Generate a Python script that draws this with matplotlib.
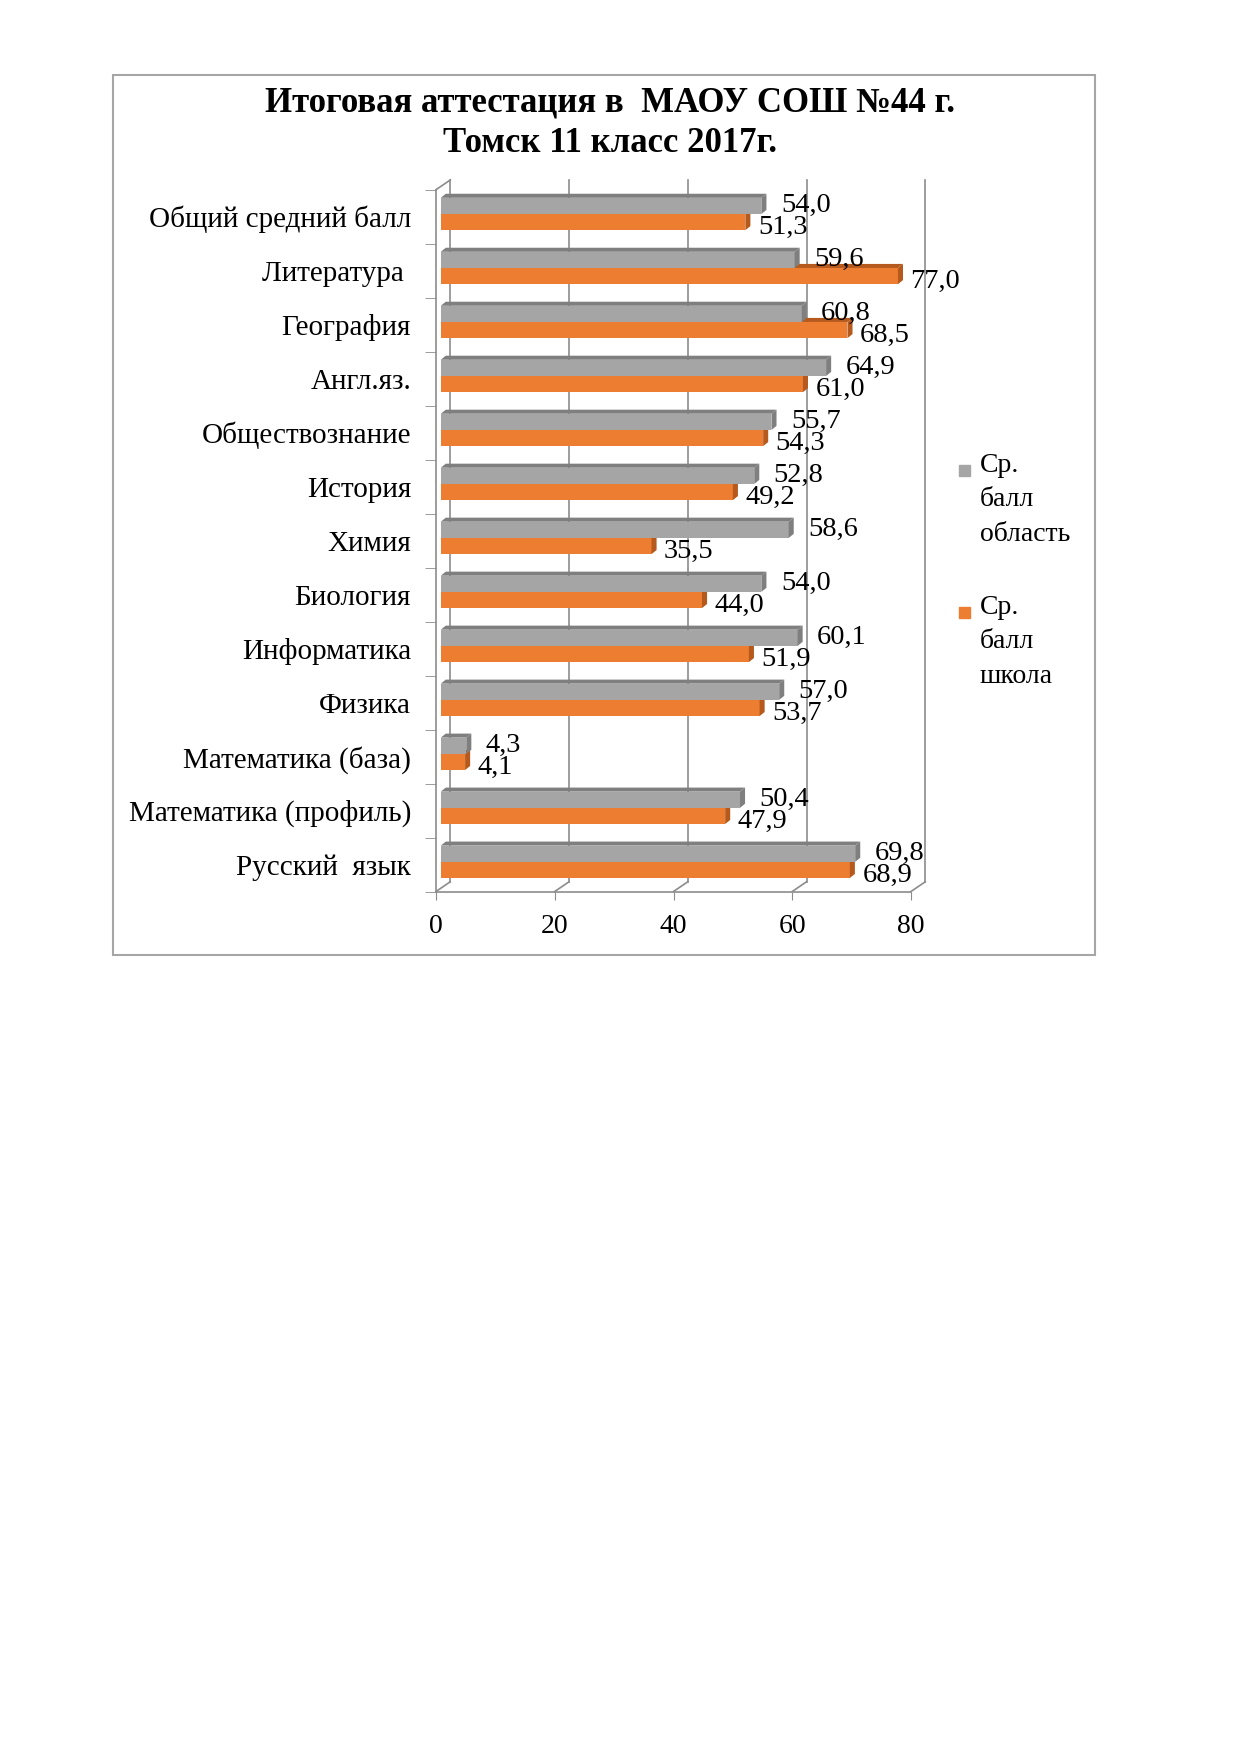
import matplotlib.pyplot as plt
from matplotlib.patches import Polygon, Rectangle

plt.rcParams['font.family'] = ['Liberation Serif', 'DejaVu Serif']

# данные снизу вверх, как в диаграмме
subjects = ["Русский  язык", "Математика (профиль)", "Математика (база)", "Физика",
            "Информатика", "Биология", "Химия", "История", "Обществознание",
            "Англ.яз.", "География", "Литература ", "Общий средний балл"]
region = [69.8, 50.4, 4.3, 57.0, 60.1, 54.0, 58.6, 52.8, 55.7, 64.9, 60.8, 59.6, 54.0]
school = [68.9, 47.9, 4.1, 53.7, 51.9, 44.0, 35.5, 49.2, 54.3, 61.0, 68.5, 77.0, 51.3]
x_ticks = [0, 20, 40, 60, 80]

title = "Итоговая аттестация в  МАОУ СОШ №44 г.\nТомск 11 класс 2017г."
legend_labels = ["Ср.\nбалл\nобласть", "Ср.\nбалл\nшкола"]

grey, grey_dark = "#A5A5A5", "#7F7F7F"
orange, orange_dark = "#ED7D31", "#B5591C"
wall = "#8C8C8C"
fs = 20

W, H = 1239, 1752
fig = plt.figure(figsize=(W / 100, H / 100), dpi=100)

# рамка вокруг диаграммы
fig.patches.append(Rectangle((113 / W, 1 - 955 / H), (1095 - 113) / W, (955 - 75) / H,
                             transform=fig.transFigure, fill=False, edgecolor="#A6A6A6", lw=1.5))

fig.text(610 / W, 1 - 123 / H, title, ha="center", va="center", fontsize=25,
         fontweight="bold", linespacing=1.3)

ax = fig.add_axes([436 / W, 1 - 891.5 / H, (911 - 436) / W, (891.5 - 189.7) / H])
ax.set_xlim(0, 80)
ax.set_ylim(-0.5, len(subjects) - 0.5)

# 3D-смещение стенок и столбиков (в единицах данных)
wx, wy = 2.4, 0.18
bx, by = 0.85, 0.075
off = 0.8
h = 0.3

# задняя стенка с линиями сетки
top = len(subjects) - 0.5
for v in x_ticks:
    ax.plot([v + wx, v + wx], [-0.5 + wy, top + wy], color=wall, lw=1.2, clip_on=False, zorder=1)
    ax.plot([v, v + wx], [-0.5, -0.5 + wy], color=wall, lw=1.2, clip_on=False, zorder=1)
ax.plot([0, wx], [top, top + wy], color=wall, lw=1.2, clip_on=False, zorder=1)


def bar3d(y, v, c, c_dark):
    ax.barh(y, v, left=off, height=h, color=c, zorder=3)
    x1 = off + v
    ax.add_patch(Polygon([(off, y + h / 2), (off + bx, y + h / 2 + by), (x1 + bx, y + h / 2 + by),
                          (x1, y + h / 2)], closed=True, color=c_dark, zorder=3, lw=0))
    ax.add_patch(Polygon([(x1, y - h / 2), (x1 + bx, y - h / 2 + by), (x1 + bx, y + h / 2 + by),
                          (x1, y + h / 2)], closed=True, color=c_dark, zorder=3, lw=0))


for i in range(len(subjects)):
    y_g = i + 0.2
    y_o = i - 0.1
    bar3d(y_o, school[i], orange, orange_dark)
    bar3d(y_g, region[i], grey, grey_dark)
    ax.annotate(f"{region[i]:.1f}".replace(".", ","), (off + region[i], y_g), xytext=(14, 0),
                textcoords="offset points", ha="left", va="center", fontsize=fs + 0.5, zorder=5)
    ax.annotate(f"{school[i]:.1f}".replace(".", ","), (off + school[i], y_o), xytext=(9, -4),
                textcoords="offset points", ha="left", va="center", fontsize=fs + 0.5, zorder=5)

for s in ["top", "right"]:
    ax.spines[s].set_visible(False)
ax.spines["left"].set_color(wall)
ax.spines["bottom"].set_color(wall)
ax.spines["left"].set_linewidth(1.2)
ax.spines["bottom"].set_linewidth(1.2)

ax.set_xticks(x_ticks)
ax.set_xticklabels([str(v) for v in x_ticks], fontsize=fs)
ax.tick_params(axis="x", length=6, color=wall, pad=10)
ax.set_yticks(range(len(subjects)))
ax.set_yticklabels(subjects, fontsize=21)
ax.tick_params(axis="y", length=0, pad=18)
ax.set_yticks([k - 0.5 for k in range(len(subjects) + 1)], minor=True)
ax.tick_params(axis="y", which="minor", length=8, color=wall)
ax.patch.set_alpha(0)

# легенда справа
for k, (lab, c) in enumerate(zip(legend_labels, [grey, orange])):
    y0 = 470 + k * 142
    fig.patches.append(Rectangle((959 / W, 1 - (y0 + 6) / H), 11 / W, 11 / H,
                                 transform=fig.transFigure, color=c))
    fig.text(980 / W, 1 - (y0 - 17) / H, lab, ha="left", va="top", fontsize=fs, linespacing=1.5)

fig.savefig("out.png", dpi=100)
